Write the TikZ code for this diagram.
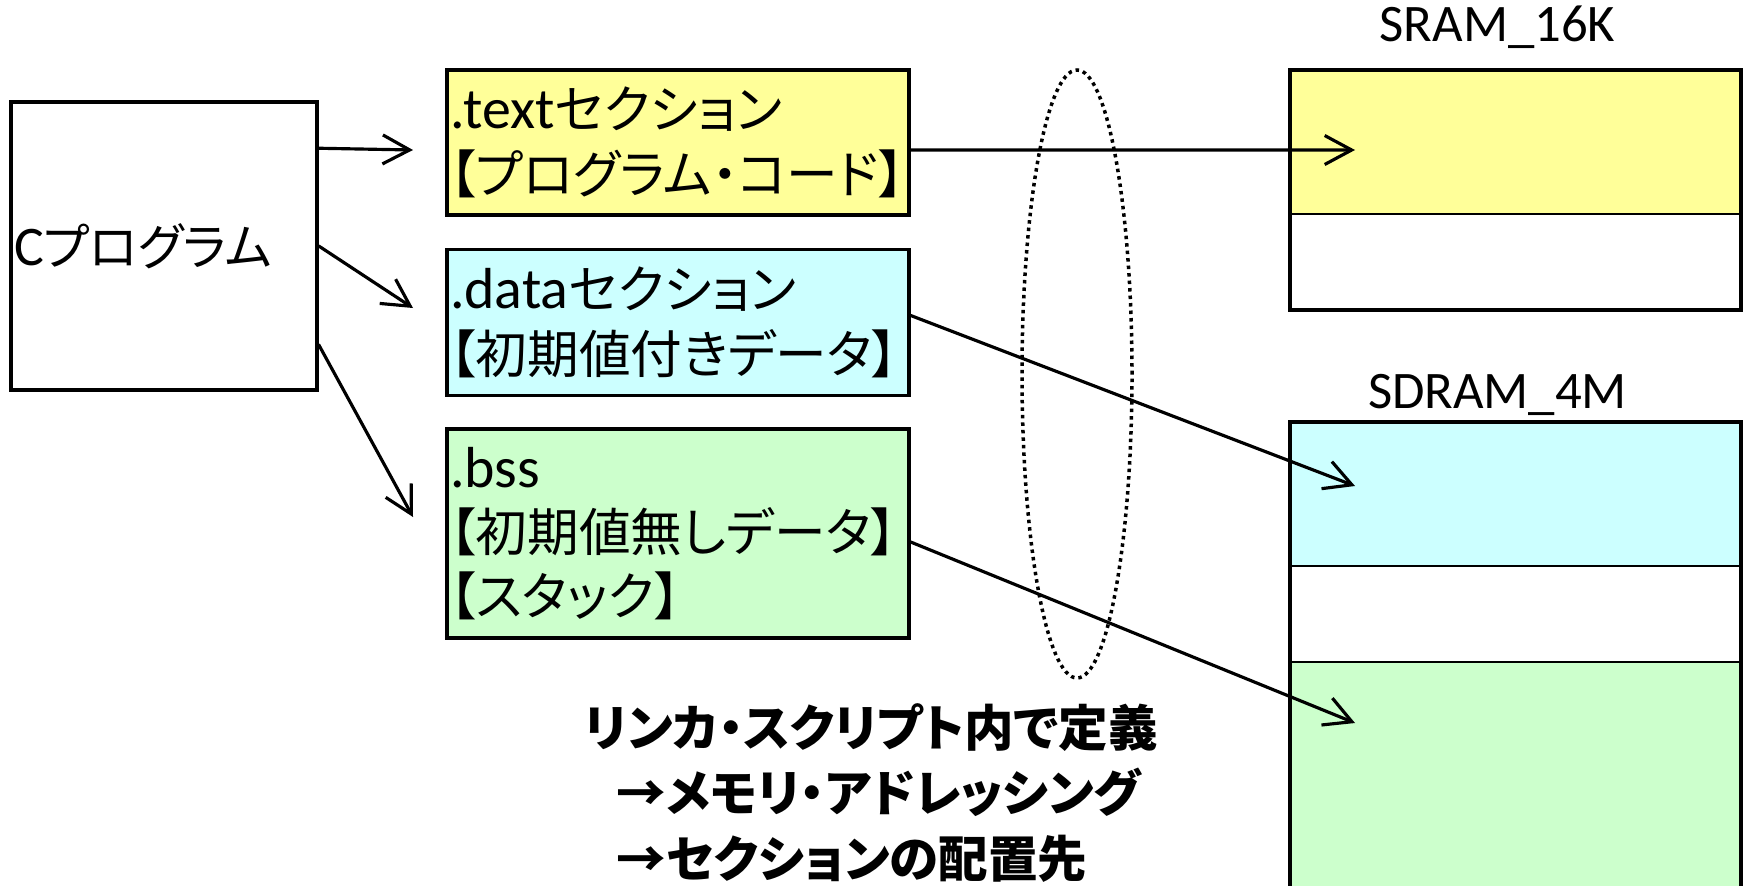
\documentclass[tikz,border=0pt]{standalone}
\usepackage{fontspec}
\setmainfont{Carlito}[Scale=1.12]
\newfontfamily\jp{Noto Sans CJK JP}[RawFeature=+palt]
\usetikzlibrary{shapes.geometric, arrows.meta, positioning}
\definecolor{codeyellow}{HTML}{FFFF99}
\definecolor{datacyan}{HTML}{CCFFFF}
\definecolor{bssgreen}{HTML}{CCFFCC}
\tikzstyle{prog} = [rectangle, minimum width=3.06cm, minimum height=2.88cm, text width=3cm, inner xsep=0.3mm, align=left, draw=black, line width=1pt, font=\fontsize{14.2}{16}\selectfont]
\tikzstyle{sect} = [rectangle, text width=4.56cm, inner xsep=0.3mm, align=left, draw=black, line width=1pt, font=\fontsize{14.7}{18.3}\selectfont]
\tikzstyle{cell} = [rectangle, minimum width=4.51cm, outer sep=0pt, inner sep=0pt, draw=black, line width=0.5pt]
\tikzstyle{memlabel} = [inner sep=0pt, font=\fontsize{13.4}{16}\selectfont]
\tikzstyle{dotring} = [ellipse, draw=black, line width=0.35mm, dash pattern=on 0.35mm off 0.4mm, minimum width=1.1cm, minimum height=6.08cm]
\tikzstyle{note} = [align=left, inner sep=0pt, font=\jp\bfseries\fontsize{14.1}{18.7}\selectfont]
\tikzstyle{arrow} = [line width=0.9pt, line cap=round, -{Straight Barb[length=2.7mm, width=2.9mm]}]

\begin{document}
\begin{tikzpicture}[node distance=3mm]
				\useasboundingbox (0,0) rectangle (17.44,8.85);
				\node (cprog)[prog] at (1.64,6.39) {C{\jp プログラム}};
				\node (text)[sect, fill=codeyellow, minimum height=1.45cm] at (6.78,7.425) {.text{\jp セクション}\\{\jp 【プログラム・コード】}};
				\node (data)[sect, fill=datacyan, minimum height=1.46cm, below=3.1mm of text] {.data{\jp セクション}\\{\jp 【初期値付きデータ】}};
				\node (bss)[sect, fill=bssgreen, minimum height=2.09cm, below=of data] {.bss\\{\jp 【初期値無しデータ】}\\{\jp 【スタック】}};
				% memory map
				\node (sramtext)[cell, fill=codeyellow, minimum height=1.44cm] at (15.155,7.43) {};
				\node (sramfree)[cell, minimum height=0.96cm, below=0pt of sramtext] {};
				\draw [line width=1pt] (sramtext.north west) rectangle (sramfree.south east);
				\node (sramlbl)[memlabel, above=2.1mm of sramtext, xshift=-1.8mm] {SRAM\_16K};
				\node (sdramdata)[cell, fill=datacyan, minimum height=1.44cm] at (15.155,3.91) {};
				\node (sdramfree)[cell, minimum height=0.96cm, below=0pt of sdramdata] {};
				\node (sdrambss)[cell, fill=bssgreen, minimum height=2.5cm, below=0pt of sdramfree] {};
				\draw [line width=1pt] (sdramdata.north west) rectangle (sdrambss.south east);
				\node (sdramlbl)[memlabel, above=0.6mm of sdramdata, xshift=-1.8mm] {SDRAM\_4M};
				\node (script)[dotring] at (10.77,5.11) {};
				\node (note)[note, anchor=west] at (5.84,0.92) {リンカ・スクリプト内で定義\\\hspace*{0.65em}→メモリ・アドレッシング\\\hspace*{0.65em}→セクションの配置先};
				% arrows
				\coordinate (toText) at (4.13,7.35);
				\coordinate (toData) at (4.13,5.77);
				\coordinate (toBss) at (4.13,3.68);
				\draw [arrow] ([yshift=-4.8mm]cprog.north east) -- (toText);
				\draw [arrow] (cprog.east) -- (toData);
				\draw [arrow] ([yshift=4.7mm]cprog.south east) -- (toBss);
				\draw [arrow] ([yshift=-0.75mm]text.east) -- ([xshift=6.5mm, yshift=-0.8mm]sramtext.west);
				\draw [arrow] ([yshift=0.7mm]data.east) -- ([xshift=6.5mm, yshift=0.8mm]sdramdata.west);
				\draw [arrow] ([yshift=-0.85mm]bss.east) -- ([xshift=6.5mm, yshift=-6.1mm]sdrambss.north west);
			\end{tikzpicture}
\end{document}
